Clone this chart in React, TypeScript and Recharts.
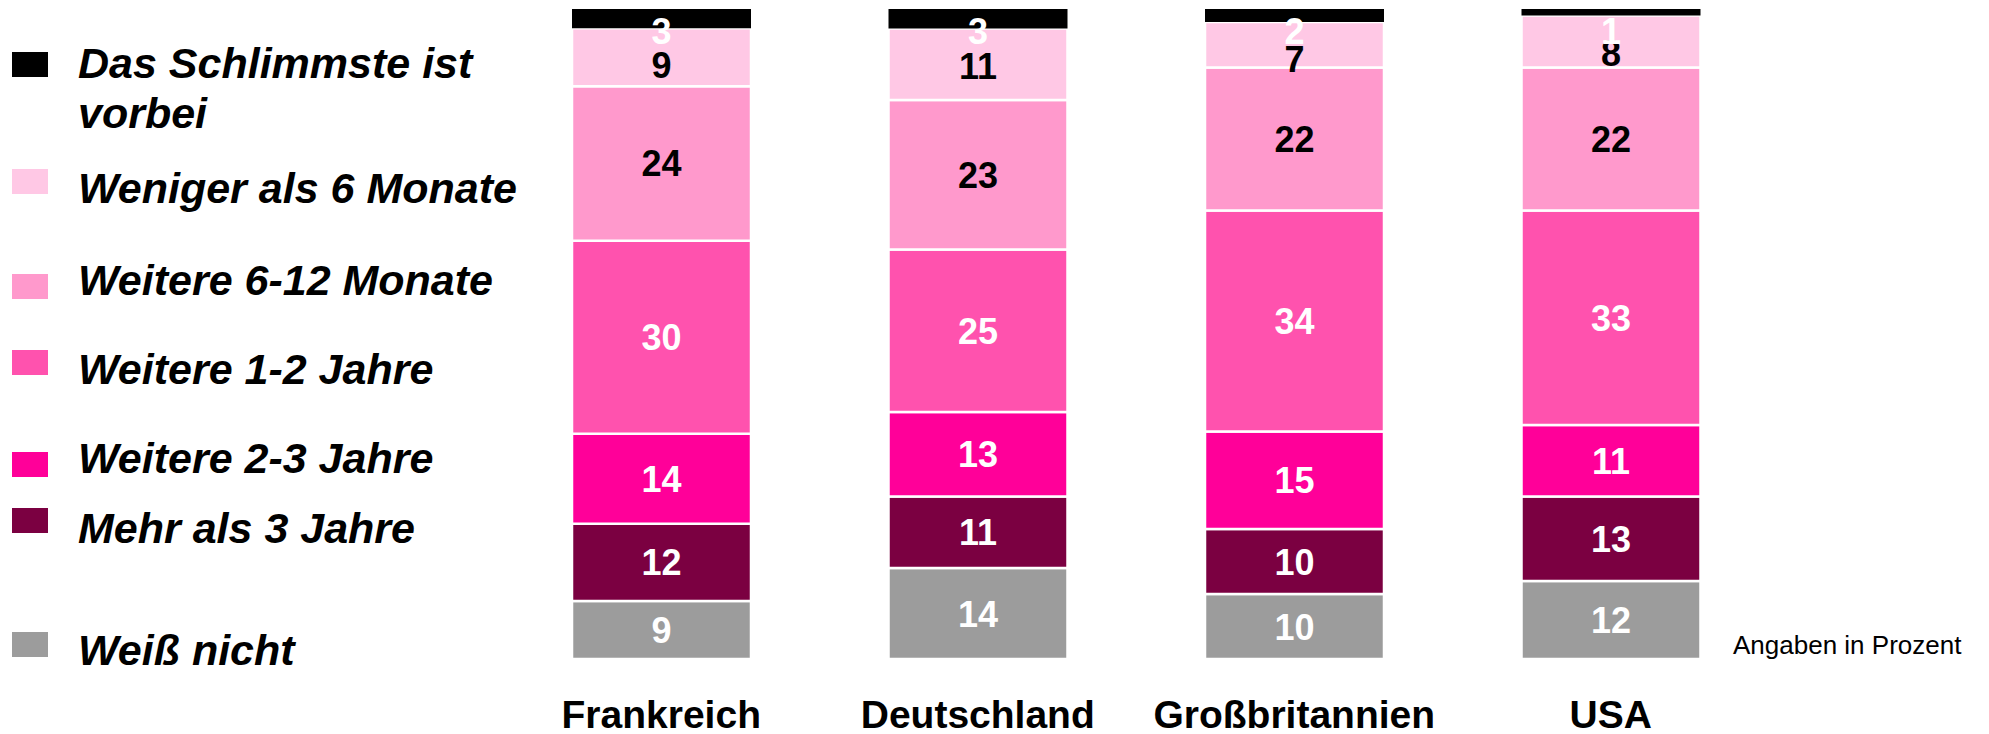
import React from 'react';
import { BarChart, Bar, XAxis, YAxis, LabelList } from 'recharts';

// Länder
const CATEGORIES = ['Frankreich', 'Deutschland', 'Großbritannien', 'USA'];

// Werte in Prozent, von unten nach oben gestapelt
const WEISS_NICHT = [9, 14, 10, 12];
const MEHR_3_JAHRE = [12, 11, 10, 13];
const WEITERE_2_3_JAHRE = [14, 13, 15, 11];
const WEITERE_1_2_JAHRE = [30, 25, 34, 33];
const WEITERE_6_12_MONATE = [24, 23, 22, 22];
const WENIGER_6_MONATE = [9, 11, 7, 8];
const SCHLIMMSTE_VORBEI = [3, 3, 2, 1];

const SERIES_NAMES = [
  'Weiß nicht',
  'Mehr als 3 Jahre',
  'Weitere 2-3 Jahre',
  'Weitere 1-2 Jahre',
  'Weitere 6-12 Monate',
  'Weniger als 6 Monate',
  'Das Schlimmste ist vorbei',
];
const SERIES_VALUES = [
  WEISS_NICHT,
  MEHR_3_JAHRE,
  WEITERE_2_3_JAHRE,
  WEITERE_1_2_JAHRE,
  WEITERE_6_12_MONATE,
  WENIGER_6_MONATE,
  SCHLIMMSTE_VORBEI,
];

// Farben
const COLORS = ['#9c9c9c', '#7b0041', '#ff0099', '#ff52ae', '#ff99cc', '#ffc8e5', '#000000'];
const LABEL_COLORS = ['#fff', '#fff', '#fff', '#fff', '#000', '#000', '#fff'];

const FONT = '"Liberation Sans", Arial, Helvetica, sans-serif';

const data = CATEGORIES.map((name, i) => {
  const row: any = { name };
  SERIES_VALUES.forEach((vals, s) => {
    row[`s${s}`] = vals[i];
  });
  return row;
});

// Legende (oben nach unten): Zeilen, Quadrat-Oberkante, Grundlinie
const LEGEND_LINES = [
  ['Das Schlimmste ist', 'vorbei'],
  ['Weniger als 6 Monate'],
  ['Weitere 6-12 Monate'],
  ['Weitere 1-2 Jahre'],
  ['Weitere 2-3 Jahre'],
  ['Mehr als 3 Jahre'],
  ['Weiß nicht'],
];
const LEGEND_SQUARE_TOP = [52, 169, 274, 350, 452, 508, 632];
const LEGEND_BASELINE = [78, 203, 295, 384, 473, 543, 665];

const makeLabel = (s: number) => (props: any) => {
  const { x, y, width, height, value } = props;
  let cy = y + height / 2;
  // oberste Etiketten verschoben wie im Original
  if (s === 6) cy = y + 22;
  if (s === 5) cy = y + 37;
  return (
    <text
      x={x + width / 2}
      y={cy + 13}
      textAnchor="middle"
      fontSize={36}
      fontWeight="bold"
      fontFamily={FONT}
      fill={LABEL_COLORS[s]}
    >
      {value}
    </text>
  );
};

const CategoryTick = (props: any) => {
  const { x, y, payload } = props;
  return (
    <text x={x} y={y + 69} textAnchor="middle" fontSize={39} fontWeight="bold" fontFamily={FONT} fill="#000">
      {payload.value}
    </text>
  );
};

const LegendBlock = () => (
  <svg width={560} height={734} style={{ position: 'absolute', left: 0, top: 0 }}>
    {LEGEND_LINES.map((lines, i) => {
      const s = SERIES_NAMES.length - 1 - i;
      return (
        <g key={i}>
          <rect x={12} y={LEGEND_SQUARE_TOP[i]} width={36} height={25} fill={COLORS[s]} />
          {lines.map((line, j) => (
            <text
              key={j}
              x={78}
              y={LEGEND_BASELINE[i] + j * 50}
              fontSize={43}
              fontWeight="bold"
              fontStyle="italic"
              fontFamily={FONT}
              fill="#000"
            >
              {line}
            </text>
          ))}
        </g>
      );
    })}
  </svg>
);

export default function App() {
  return (
    <div style={{ position: 'absolute', left: 0, top: 0, width: 1989, height: 734, background: '#fff' }}>
      <BarChart
        width={1989}
        height={734}
        data={data}
        stackOffset="expand"
        margin={{ top: 9, right: 220, bottom: 0, left: 503 }}
      >
        <XAxis
          dataKey="name"
          height={75}
          axisLine={false}
          tickLine={false}
          tickSize={0}
          tickMargin={0}
          interval={0}
          tick={<CategoryTick />}
        />
        <YAxis hide domain={[0, 1]} />
        {SERIES_NAMES.map((name, s) => (
          <Bar
            key={name}
            dataKey={`s${s}`}
            name={name}
            stackId="a"
            fill={COLORS[s]}
            stroke={s === 6 ? 'none' : '#fff'}
            strokeWidth={s === 6 ? 0 : 2.5}
            barSize={179}
            isAnimationActive={false}
          >
            <LabelList dataKey={`s${s}`} content={makeLabel(s)} />
          </Bar>
        ))}
      </BarChart>
      <LegendBlock />
      <div
        style={{
          position: 'absolute',
          left: 1733,
          top: 630,
          fontFamily: FONT,
          fontSize: 26,
          lineHeight: '30px',
          color: '#000',
          whiteSpace: 'nowrap',
        }}
      >
        Angaben in Prozent
      </div>
    </div>
  );
}
